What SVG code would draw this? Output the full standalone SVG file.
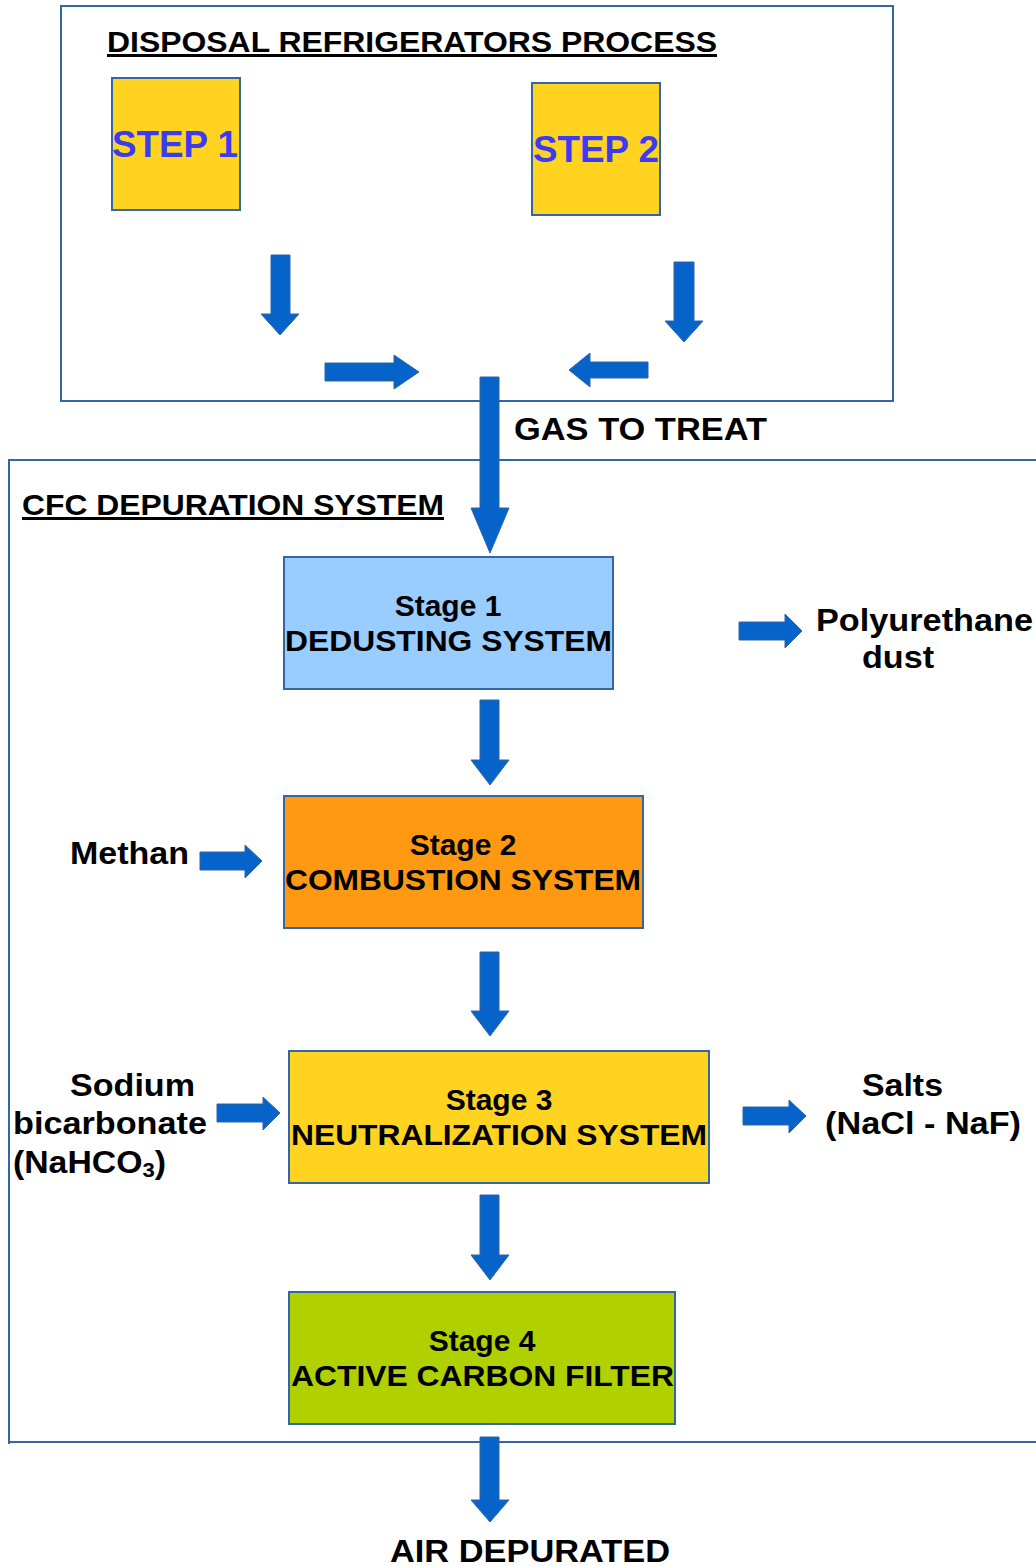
<svg xmlns="http://www.w3.org/2000/svg" width="1036" height="1566" viewBox="0 0 1036 1566">
<defs>
<style>
.frame{fill:none;stroke:#3465a4;stroke-width:2}
.box{stroke:#3465a4;stroke-width:2}
.arr{fill:#0563c9;stroke:#3465a4;stroke-width:1}
.t{font-family:"Liberation Sans",Arial,sans-serif;font-weight:bold;fill:#000}
.h{font-size:30px;text-decoration:underline}
.s{font-size:30px}
.l{font-size:32px}
.step{font-family:"Liberation Sans",Arial,sans-serif;font-weight:bold;font-size:36px;fill:#3b3bf2}
</style>
</defs>
<rect width="1036" height="1566" fill="#fff"/>
<g id="frames">
<path class="frame" d="M61,6 L893,6 L893,401 L61,401 Z"/>
<path class="frame" d="M1036,460 L9,460 L9,1444 M9,1442 L1036,1442"/>
</g>
<text class="t h" x="107" y="52" textLength="610" lengthAdjust="spacingAndGlyphs">DISPOSAL REFRIGERATORS PROCESS</text>
<text class="t h" x="22" y="515" textLength="422" lengthAdjust="spacingAndGlyphs">CFC DEPURATION SYSTEM</text>
<g id="step1">
<rect class="box" x="112" y="78" width="128" height="132" fill="#ffd320"/>
<text class="step" x="112" y="157" textLength="126" lengthAdjust="spacingAndGlyphs">STEP 1</text>
</g>
<g id="step2">
<rect class="box" x="532" y="83" width="128" height="132" fill="#ffd320"/>
<text class="step" x="533" y="162" textLength="126" lengthAdjust="spacingAndGlyphs">STEP 2</text>
</g>
<g id="stage1">
<rect class="box" x="284" y="557" width="329" height="132" fill="#99ccff"/>
<text class="t s" x="448" y="616" text-anchor="middle">Stage 1</text>
<text class="t s" x="285" y="651" textLength="327" lengthAdjust="spacingAndGlyphs">DEDUSTING SYSTEM</text>
</g>
<g id="stage2">
<rect class="box" x="284" y="796" width="359" height="132" fill="#ff9912"/>
<text class="t s" x="463" y="855" text-anchor="middle">Stage 2</text>
<text class="t s" x="285" y="890" textLength="356" lengthAdjust="spacingAndGlyphs">COMBUSTION SYSTEM</text>
</g>
<g id="stage3">
<rect class="box" x="289" y="1051" width="420" height="132" fill="#ffd320"/>
<text class="t s" x="499" y="1110" text-anchor="middle">Stage 3</text>
<text class="t s" x="291" y="1145" textLength="416" lengthAdjust="spacingAndGlyphs">NEUTRALIZATION SYSTEM</text>
</g>
<g id="stage4">
<rect class="box" x="289" y="1292" width="386" height="132" fill="#b0d000"/>
<text class="t s" x="482" y="1351" text-anchor="middle">Stage 4</text>
<text class="t s" x="291" y="1386" textLength="383" lengthAdjust="spacingAndGlyphs">ACTIVE CARBON FILTER</text>
</g>
<g id="labels">
<text class="t l" x="514" y="440" textLength="253" lengthAdjust="spacingAndGlyphs">GAS TO TREAT</text>
<text class="t l" x="816" y="631" textLength="217" lengthAdjust="spacingAndGlyphs">Polyurethane</text>
<text class="t l" x="862" y="668" textLength="72" lengthAdjust="spacingAndGlyphs">dust</text>
<text class="t l" x="70" y="864" textLength="119" lengthAdjust="spacingAndGlyphs">Methan</text>
<text class="t l" x="70" y="1096" textLength="125" lengthAdjust="spacingAndGlyphs">Sodium</text>
<text class="t l" x="13" y="1134" textLength="194" lengthAdjust="spacingAndGlyphs">bicarbonate</text>
<text class="t l" x="13" y="1173" textLength="153" lengthAdjust="spacingAndGlyphs">(NaHCO<tspan font-size="21px" dy="4">3</tspan><tspan dy="-4">)</tspan></text>
<text class="t l" x="862" y="1096" textLength="81" lengthAdjust="spacingAndGlyphs">Salts</text>
<text class="t l" x="825" y="1134" textLength="196" lengthAdjust="spacingAndGlyphs">(NaCl - NaF)</text>
<text class="t l" x="390" y="1562" textLength="280" lengthAdjust="spacingAndGlyphs">AIR DEPURATED</text>
</g>
<g id="connectors">
<polygon class="arr" points="271,255 290,255 290,314 299,314 280,335 261,314 271,314"/>
<polygon class="arr" points="674,262 694,262 694,321 703,321 684,342 665,321 674,321"/>
<polygon class="arr" points="325,363 394,363 394,355 419,372 394,389 394,381 325,381"/>
<polygon class="arr" points="648,362 590,362 590,353 569,370 590,387 590,378 648,378"/>
<polygon class="arr" points="480,377 499,377 499,508 509,508 490,553 471,508 480,508"/>
<polygon class="arr" points="480,700 499,700 499,760 509,760 490,785 471,760 480,760"/>
<polygon class="arr" points="480,952 499,952 499,1011 509,1011 490,1036 471,1011 480,1011"/>
<polygon class="arr" points="480,1195 499,1195 499,1255 509,1255 490,1280 471,1255 480,1255"/>
<polygon class="arr" points="480,1437 499,1437 499,1500 509,1500 490,1522 471,1500 480,1500"/>
<polygon class="arr" points="739,622 785,622 785,614 802,631 785,648 785,640 739,640"/>
<polygon class="arr" points="200,852 245,852 245,845 262,861 245,878 245,870 200,870"/>
<polygon class="arr" points="217,1104 263,1104 263,1097 280,1113 263,1130 263,1122 217,1122"/>
<polygon class="arr" points="743,1107 789,1107 789,1100 806,1116 789,1133 789,1125 743,1125"/>
</g>
</svg>
